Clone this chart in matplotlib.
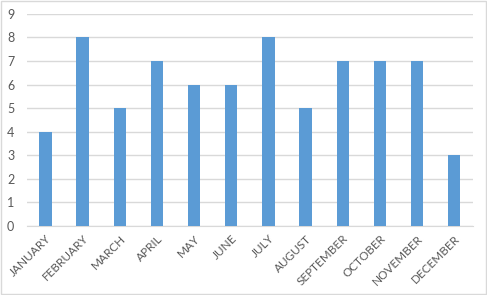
import matplotlib
matplotlib.use('Agg')
import matplotlib.pyplot as plt
from matplotlib.patches import Rectangle

months = ['JANUARY', 'FEBRUARY', 'MARCH', 'APRIL', 'MAY', 'JUNE', 'JULY',
          'AUGUST', 'SEPTEMBER', 'OCTOBER', 'NOVEMBER', 'DECEMBER']
values = [4, 8, 5, 7, 6, 6, 8, 5, 7, 7, 7, 3]
yticks = list(range(0, 10))

grey = '#595959'
plt.rcParams['font.family'] = ['Lato', 'DejaVu Sans']

fig = plt.figure(figsize=(4.87, 2.95), dpi=100)
ax = fig.add_axes([0.055, 0.234, 0.916, 0.719])

x = list(range(len(months)))
ax.bar(x, values, width=0.33, color='#5B9BD5', zorder=3)

ax.set_xlim(-0.5, len(months) - 0.5)
ax.set_ylim(0, 9)
ax.set_yticks(yticks)
ax.set_xticks(x)
ax.set_xticklabels(months, rotation=45, ha='right', rotation_mode='anchor',
                   fontsize=8.5, color=grey)
ax.tick_params(axis='y', labelsize=9, colors=grey, length=0, pad=9)
ax.tick_params(axis='x', length=0, pad=5)

ax.grid(axis='y', color='#D9D9D9', linewidth=1, zorder=0)
for s in ['top', 'right', 'left']:
    ax.spines[s].set_visible(False)
ax.spines['bottom'].set_color('#D9D9D9')

fig.patches.append(Rectangle((0.002, 0.003), 0.995, 0.994, transform=fig.transFigure,
                             fill=False, edgecolor='#D9D9D9', linewidth=1))

fig.savefig('out.png', dpi=100)
